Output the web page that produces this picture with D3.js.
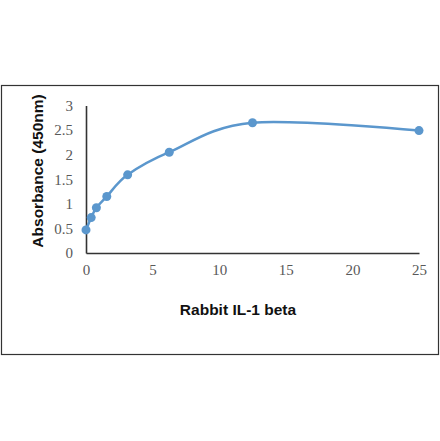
<!DOCTYPE html>
<html>
<head>
<meta charset="utf-8">
<script src="https://cdn.jsdelivr.net/npm/d3@7"></script>
<style>
  html, body { margin: 0; padding: 0; background: #fff; }
</style>
</head>
<body>
<svg id="chart"></svg>
<script>
// concentration (x) and absorbance (y)
const concentrations = [0, 0.39, 0.78, 1.56, 3.125, 6.25, 12.5, 25];
const absorbances = [0.47, 0.72, 0.92, 1.15, 1.59, 2.05, 2.65, 2.49];
const xTicks = [0, 5, 10, 15, 20, 25];
const yTicks = [0, 0.5, 1, 1.5, 2, 2.5, 3];
const xTitle = 'Rabbit IL-1 beta';
const yTitle = 'Absorbance (450nm)';

const width = 440, height = 441;
const blue = '#5b97cd';

const svg = d3.select('#chart')
        .attr('width', width)
        .attr('height', height);

// outer frame
svg.append('rect')
        .attr('x', 1.5).attr('y', 85.5)
        .attr('width', 437).attr('height', 269)
        .attr('fill', 'none')
        .attr('stroke', '#333')
        .attr('stroke-width', 1.2);

let x = d3.scaleLinear().domain([0, 25]).range([86, 419]);
let y = d3.scaleLinear().domain([0, 3]).range([253, 105.5]);

let xAxis = svg.append('g')
        .attr('transform', `translate(0,${y(0)})`)
        .call(d3.axisBottom(x).tickValues(xTicks).tickSize(0).tickPadding(11));
let yAxis = svg.append('g')
        .attr('transform', `translate(${x(0)},0)`)
        .call(d3.axisLeft(y).tickValues(yTicks).tickSize(0).tickPadding(13).tickFormat(d3.format('')));

[xAxis, yAxis].forEach(function (ax) {
    ax.select('.domain').attr('stroke', '#333').attr('stroke-width', 1.6);
    ax.selectAll('text')
            .attr('font-family', '"Liberation Serif", serif')
            .attr('font-size', 15)
            .attr('fill', '#595959');
});

// smoothed line like the spreadsheet one
let line = d3.line()
        .x(function (d, i) { return x(concentrations[i]); })
        .y(function (d) { return y(d); })
        .curve(d3.curveCardinal.tension(0));

svg.append('path')
        .datum(absorbances)
        .attr('d', line)
        .attr('fill', 'none')
        .attr('stroke', blue)
        .attr('stroke-width', 2.5);

svg.append('g')
        .selectAll('circle')
        .data(absorbances)
        .join('circle')
        .attr('cx', function (d, i) { return x(concentrations[i]); })
        .attr('cy', function (d) { return y(d); })
        .attr('r', 4.5)
        .attr('fill', blue);

svg.append('text')
        .attr('x', 238).attr('y', 315)
        .attr('text-anchor', 'middle')
        .attr('font-family', '"Liberation Sans", Arial, sans-serif')
        .attr('font-weight', 'bold')
        .attr('font-size', 15.5)
        .attr('fill', '#111')
        .text(xTitle);

svg.append('text')
        .attr('transform', 'translate(43,171) rotate(-90)')
        .attr('text-anchor', 'middle')
        .attr('font-family', '"Liberation Sans", Arial, sans-serif')
        .attr('font-weight', 'bold')
        .attr('font-size', 15.5)
        .attr('fill', '#111')
        .text(yTitle);
</script>
</body>
</html>
